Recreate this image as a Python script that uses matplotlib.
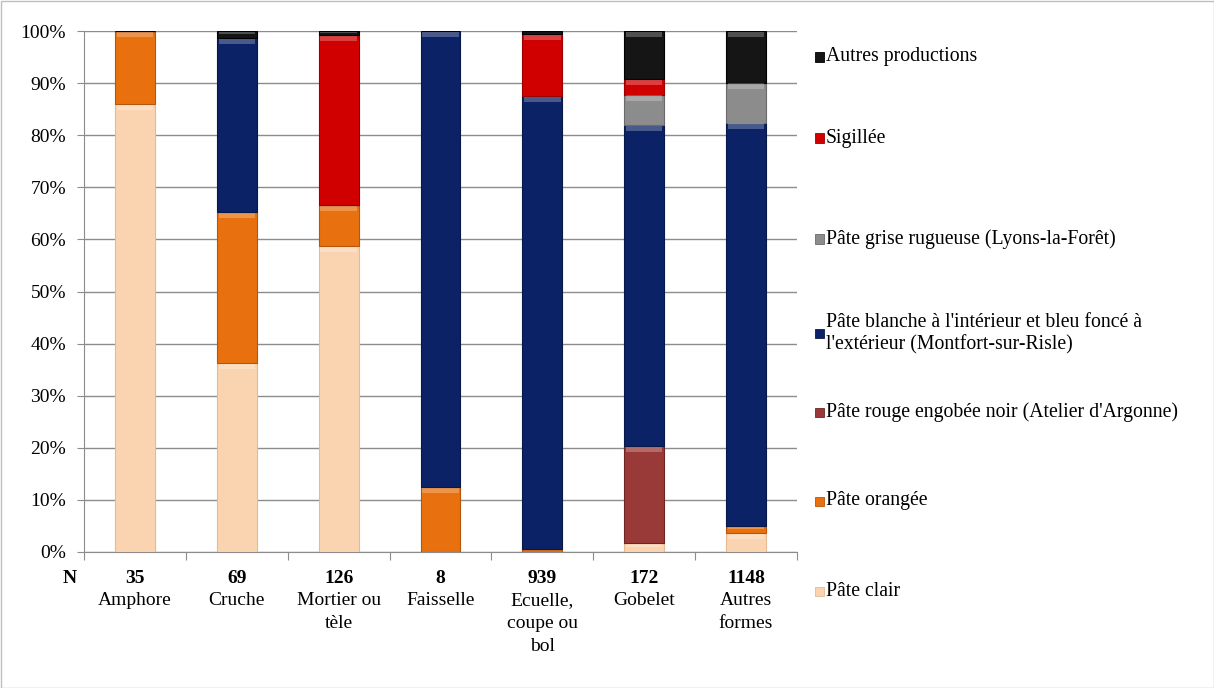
import matplotlib
matplotlib.use("Agg")
import matplotlib.pyplot as plt
import matplotlib.patches as mpatches
from matplotlib import font_manager
import numpy as np

categories = ["Amphore", "Cruche", "Mortier ou\ntèle", "Faisselle", "Ecuelle,\ncoupe ou\nbol", "Gobelet", "Autres\nformes"]
n_values = ["35", "69", "126", "8", "939", "172", "1148"]

series_names = ["Pâte clair", "Pâte orangée", "Pâte rouge engobée noir (Atelier d'Argonne)",
                "Pâte blanche à l'intérieur et bleu foncé à\nl'extérieur (Montfort-sur-Risle)",
                "Pâte grise rugueuse (Lyons-la-Forêt)", "Sigillée", "Autres productions"]

pate_clair    = [86.0, 36.2, 58.7, 0.0,  0.0, 1.7, 3.6]
pate_orangee  = [14.0, 29.0, 7.9, 12.5,  0.5, 0.0, 1.4]
pate_rouge    = [0.0,  0.0,  0.0, 0.0,   0.0, 18.6, 0.0]
pate_blanche  = [0.0,  33.4, 0.0, 87.5, 87.0, 61.7, 77.4]
pate_grise    = [0.0,  0.0,  0.0, 0.0,   0.0, 5.8, 7.7]
sigillee      = [0.0,  0.0,  32.6, 0.0, 11.9, 2.9, 0.0]
autres_prod   = [0.0,  1.4,  0.8, 0.0,   0.6, 9.3, 9.9]

colors = ["#FAD4B0", "#E8700E", "#9A3A38", "#0B2366", "#8C8C8C", "#D00000", "#151515"]
edge_colors = ["#E8B890", "#B85508", "#6E2624", "#061848", "#6A6A6A", "#9A0000", "#000000"]

series = [pate_clair, pate_orangee, pate_rouge, pate_blanche, pate_grise, sigillee, autres_prod]

names = sorted({f.name for f in font_manager.fontManager.ttflist})
serif_pref = [n for n in ["Liberation Serif", "Times New Roman", "Nimbus Roman", "DejaVu Serif"] if n in names]
plt.rcParams['font.family'] = 'serif'
plt.rcParams['font.serif'] = serif_pref + ['DejaVu Serif']

fig = plt.figure(figsize=(12.14, 6.88), dpi=100)
ax = fig.add_axes([84/1214, 1-552/688, (797-84)/1214, (552-31)/688])

x = np.arange(len(categories))
bottom = np.zeros(len(categories))
width = 0.39
for vals, c, ec in zip(series, colors, edge_colors):
    v = np.array(vals)
    ax.bar(x, v, width, bottom=bottom, color=c, edgecolor=ec, linewidth=0.8, zorder=3)
    for xi, (b, h) in enumerate(zip(bottom, v)):
        if h > 0.6:
            hh = min(1.0, h * 0.3)
            ax.bar(xi, hh, width * 0.92, bottom=b + h - hh - 0.15, color="white", alpha=0.25,
                   linewidth=0, zorder=4)
    bottom += v

ax.set_xlim(-0.5, len(categories) - 0.5)
ax.set_ylim(0, 100)
ax.set_yticks(np.arange(0, 101, 10))
ax.set_yticklabels([f"{t}%" for t in range(0, 101, 10)], fontsize=14)
ax.yaxis.grid(True, color="#8C8C8C", linewidth=1.0, zorder=0)
ax.set_axisbelow(True)
for s in ["top", "right"]:
    ax.spines[s].set_visible(False)
ax.spines["left"].set_color("#8C8C8C")
ax.spines["bottom"].set_color("#8C8C8C")
ax.tick_params(axis="y", direction="out", length=5, color="#8C8C8C", pad=8)
ax.set_xticks(np.arange(-0.5, len(categories), 1.0))
ax.set_xticklabels([])
ax.tick_params(axis="x", direction="out", length=6, color="#8C8C8C")

trans = ax.get_xaxis_transform()
ax.text(-0.5 - 0.14, -0.05, "N", transform=trans, ha="center", va="center", fontsize=14, fontweight="bold")
for xi, (n, cat) in enumerate(zip(n_values, categories)):
    ax.text(xi, -0.05, n, transform=trans, ha="center", va="center", fontsize=14, fontweight="bold")
    ax.text(xi, -0.077, cat, transform=trans, ha="center", va="top", fontsize=14, linespacing=1.45)

legend_y = [57, 138, 239, 334, 412, 501, 591]
for name, c, ec, yp in zip(series_names[::-1], colors[::-1], edge_colors[::-1], legend_y):
    fy = 1 - yp / 688
    fig.patches.append(mpatches.Rectangle((815/1214, fy - 4.5/688), 9/1214, 9/688,
                                          transform=fig.transFigure, facecolor=c, edgecolor=ec, linewidth=0.6))
    fig.text(826/1214, fy, name, ha="left", va="center", fontsize=14.2, linespacing=1.2)

fig.patches.append(mpatches.Rectangle((0.5/1214, 0.5/688), 1 - 1/1214, 1 - 1/688, transform=fig.transFigure,
                                      fill=False, edgecolor="#BFBFBF", linewidth=1.0))

fig.savefig("out.png", dpi=100)
